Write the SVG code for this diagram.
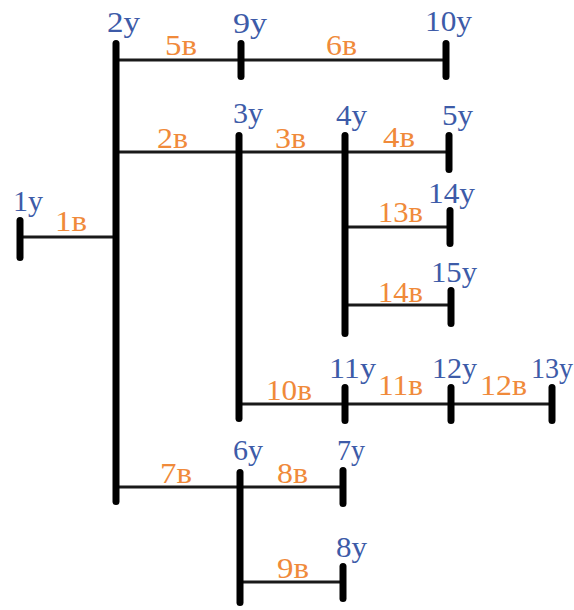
<svg xmlns="http://www.w3.org/2000/svg" width="574" height="610" viewBox="0 0 574 610">
<style>
.bar{stroke:#000;stroke-width:7;stroke-linecap:round;fill:none}
.ln{stroke:#1a1a1a;stroke-width:3;fill:none}
.nl{font-family:"Liberation Serif","Times New Roman",serif;font-size:29px;fill:#3d5ba8}
.el{font-family:"Liberation Serif","Times New Roman",serif;font-size:29px;fill:#f08a3a}
</style>
<rect width="574" height="610" fill="#fff"/>
<g id="connectors">
<line class="ln" x1="20" y1="237" x2="116" y2="237"/>
<line class="ln" x1="116" y1="60" x2="241" y2="60"/>
<line class="ln" x1="241" y1="60" x2="446" y2="60"/>
<line class="ln" x1="116" y1="152" x2="239" y2="152"/>
<line class="ln" x1="239" y1="152" x2="345" y2="152"/>
<line class="ln" x1="345" y1="152" x2="449" y2="152"/>
<line class="ln" x1="345" y1="227" x2="450" y2="227"/>
<line class="ln" x1="345" y1="305" x2="451" y2="305"/>
<line class="ln" x1="239" y1="404" x2="345" y2="404"/>
<line class="ln" x1="345" y1="404" x2="451" y2="404"/>
<line class="ln" x1="451" y1="404" x2="552" y2="404"/>
<line class="ln" x1="116" y1="487" x2="240" y2="487"/>
<line class="ln" x1="240" y1="487" x2="343" y2="487"/>
<line class="ln" x1="240" y1="582" x2="343" y2="582"/>
<text class="el" x="55" y="231" textLength="32" lengthAdjust="spacingAndGlyphs">1в</text>
<text class="el" x="157" y="148" textLength="31" lengthAdjust="spacingAndGlyphs">2в</text>
<text class="el" x="275" y="148" textLength="31" lengthAdjust="spacingAndGlyphs">3в</text>
<text class="el" x="383" y="147" textLength="32" lengthAdjust="spacingAndGlyphs">4в</text>
<text class="el" x="165" y="55" textLength="32" lengthAdjust="spacingAndGlyphs">5в</text>
<text class="el" x="326" y="55" textLength="31" lengthAdjust="spacingAndGlyphs">6в</text>
<text class="el" x="160" y="483" textLength="32" lengthAdjust="spacingAndGlyphs">7в</text>
<text class="el" x="277" y="483" textLength="31" lengthAdjust="spacingAndGlyphs">8в</text>
<text class="el" x="277" y="578" textLength="32" lengthAdjust="spacingAndGlyphs">9в</text>
<text class="el" x="266" y="400" textLength="46" lengthAdjust="spacingAndGlyphs">10в</text>
<text class="el" x="378" y="395" textLength="45" lengthAdjust="spacingAndGlyphs">11в</text>
<text class="el" x="480" y="395" textLength="47" lengthAdjust="spacingAndGlyphs">12в</text>
<text class="el" x="378" y="222" textLength="45" lengthAdjust="spacingAndGlyphs">13в</text>
<text class="el" x="378" y="302" textLength="45" lengthAdjust="spacingAndGlyphs">14в</text>
</g>
<g id="n1"><line class="bar" x1="20" y1="220.5" x2="20" y2="257.5"/><text class="nl" x="13" y="211" textLength="30" lengthAdjust="spacingAndGlyphs">1y</text></g>
<g id="n2"><line class="bar" x1="116" y1="43.5" x2="116" y2="501.5"/><text class="nl" x="107" y="32" textLength="33" lengthAdjust="spacingAndGlyphs">2y</text></g>
<g id="n3"><line class="bar" x1="239" y1="135.5" x2="239" y2="418.5"/><text class="nl" x="233" y="123" textLength="30" lengthAdjust="spacingAndGlyphs">3y</text></g>
<g id="n4"><line class="bar" x1="345" y1="135.5" x2="345" y2="333.5"/><text class="nl" x="336" y="125" textLength="31" lengthAdjust="spacingAndGlyphs">4y</text></g>
<g id="n5"><line class="bar" x1="449" y1="135.5" x2="449" y2="169.5"/><text class="nl" x="442" y="125" textLength="31" lengthAdjust="spacingAndGlyphs">5y</text></g>
<g id="n6"><line class="bar" x1="240" y1="472.5" x2="240" y2="602.5"/><text class="nl" x="233" y="460" textLength="30" lengthAdjust="spacingAndGlyphs">6y</text></g>
<g id="n7"><line class="bar" x1="343" y1="470.5" x2="343" y2="503.5"/><text class="nl" x="337" y="460" textLength="28" lengthAdjust="spacingAndGlyphs">7y</text></g>
<g id="n8"><line class="bar" x1="343" y1="566.5" x2="343" y2="598.5"/><text class="nl" x="336" y="557" textLength="31" lengthAdjust="spacingAndGlyphs">8y</text></g>
<g id="n9"><line class="bar" x1="241" y1="43.5" x2="241" y2="76.5"/><text class="nl" x="233" y="33" textLength="34" lengthAdjust="spacingAndGlyphs">9y</text></g>
<g id="n10"><line class="bar" x1="446" y1="43.5" x2="446" y2="76.5"/><text class="nl" x="425" y="31" textLength="47" lengthAdjust="spacingAndGlyphs">10y</text></g>
<g id="n11"><line class="bar" x1="345" y1="387.5" x2="345" y2="420.5"/><text class="nl" x="329" y="378" textLength="47" lengthAdjust="spacingAndGlyphs">11y</text></g>
<g id="n12"><line class="bar" x1="451" y1="387.5" x2="451" y2="420.5"/><text class="nl" x="432" y="378" textLength="45" lengthAdjust="spacingAndGlyphs">12y</text></g>
<g id="n13"><line class="bar" x1="552" y1="387.5" x2="552" y2="420.5"/><text class="nl" x="531" y="378" textLength="42" lengthAdjust="spacingAndGlyphs">13y</text></g>
<g id="n14"><line class="bar" x1="450" y1="210.5" x2="450" y2="243.5"/><text class="nl" x="428" y="203" textLength="47" lengthAdjust="spacingAndGlyphs">14y</text></g>
<g id="n15"><line class="bar" x1="451" y1="290.5" x2="451" y2="323.5"/><text class="nl" x="431" y="282" textLength="46" lengthAdjust="spacingAndGlyphs">15y</text></g>
</svg>
